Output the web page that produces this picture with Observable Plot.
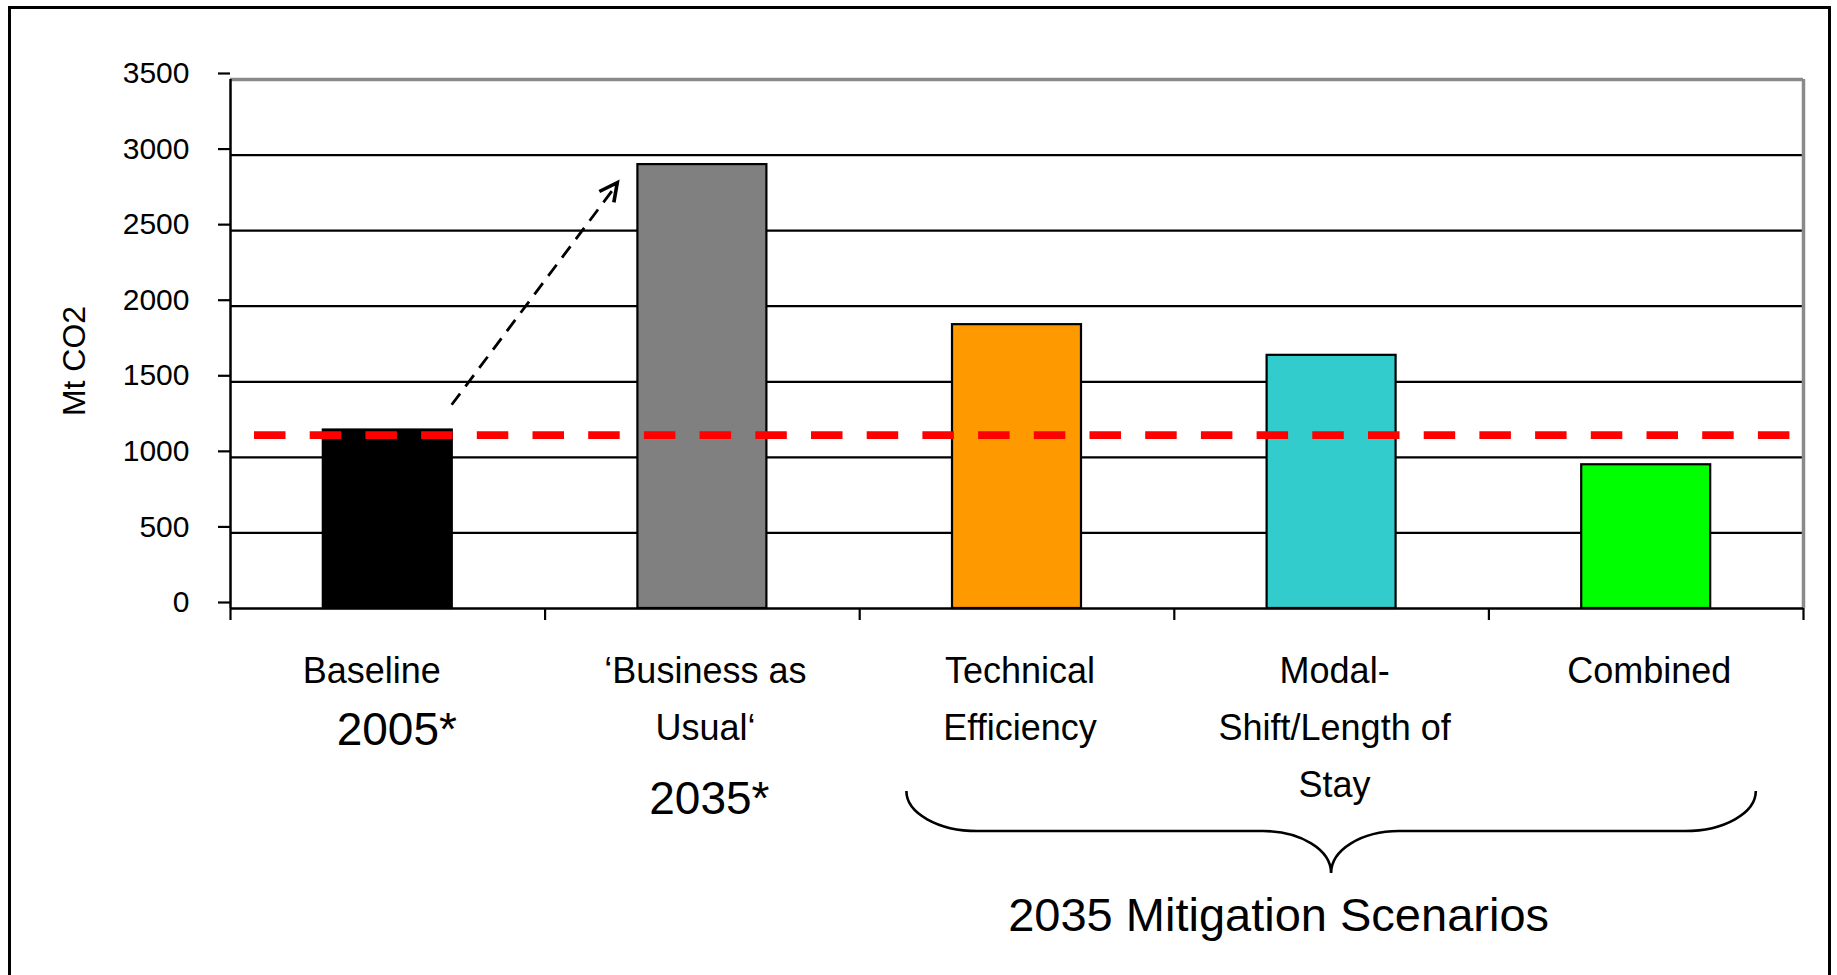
<!DOCTYPE html>
<html>
<head>
<meta charset="utf-8">
<script src="https://cdn.jsdelivr.net/npm/d3@7"></script>
<script src="https://cdn.jsdelivr.net/npm/@observablehq/plot@0.6"></script>
<style>
  html, body { margin: 0; padding: 0; background: #fff; width: 1837px; height: 975px; overflow: hidden; }
  #chart { position: absolute; left: 0; top: 0; }
  #frame { position: absolute; left: 8px; top: 6px; width: 1823px; height: 1100px; border: 3px solid #000; box-sizing: border-box; pointer-events: none; z-index: 2; }
</style>
</head>
<body>
<div id="chart"></div>
<div id="frame"></div>
<script>
// ---- data ----
const categories = ["Baseline", "‘Business as\nUsual‘", "Technical\nEfficiency", "Modal-\nShift/Length of\nStay", "Combined"];
const values = [1181, 2937, 1878, 1675, 951];
const fills = ["#000000", "#808080", "#FF9900", "#33CCCC", "#00FF00"];
const yearLabels = ["2005*", "2035*"];
const yTicks = [0, 500, 1000, 1500, 2000, 2500, 3000, 3500];
const targetLevel = 1147;
const trendArrow = {x1: 0.203, y1: 1348, x2: 0.731, y2: 2814};
const groupLabel = "2035 Mitigation Scenarios";
const groupSpan = {from: 1.65, to: 4.35, tip: 3.0};
const yLabel = "Mt CO2";

const bars = categories.map((name, i) => ({i, name, value: values[i], fill: fills[i]}));
const font = "'Liberation Sans', Arial, Helvetica, sans-serif";

const chart = Plot.plot({
  width: 1837,
  height: 975,
  marginLeft: 230,
  marginRight: 34,
  marginTop: 79,
  marginBottom: 367,
  x: {type: "linear", domain: [-0.5, 4.5], axis: null},
  y: {domain: [0, 3500], axis: null},
  color: {type: "identity"},
  style: {fontFamily: font, fontSize: "30px", color: "#000", background: "transparent", overflow: "visible"},
  marks: [
    // gridlines
    Plot.ruleY(yTicks.filter(t => t > 0 && t < 3500), {stroke: "#000", strokeWidth: 2.3}),
    Plot.ruleY([3500], {stroke: "#8a8a8a", strokeWidth: 3.5}),
    Plot.ruleX([4.5], {y1: 0, y2: 3500, stroke: "#8a8a8a", strokeWidth: 3.5}),
    // bars
    Plot.rect(bars, {
      x1: d => d.i - 0.205, x2: d => d.i + 0.205,
      y1: () => 0, y2: "value",
      fill: "fill", stroke: "#000", strokeWidth: 2.2
    }),
    // axis lines
    Plot.ruleX([-0.5], {y1: 0, y2: 3500, stroke: "#000", strokeWidth: 2.5}),
    Plot.ruleY([0], {stroke: "#000", strokeWidth: 2.5}),
    // axis ticks + labels
    Plot.axisY(yTicks, {anchor: "left", tickSize: 12, tickPadding: 29, dy: -6, fontSize: 30, strokeWidth: 2.2, label: null, tickFormat: d => String(d)}),
    Plot.axisX([-0.5, 0.5, 1.5, 2.5, 3.5, 4.5], {anchor: "bottom", tickSize: 12, tickFormat: () => "", strokeWidth: 2.2, label: null}),
    // red dashed reference level
    Plot.ruleY([targetLevel], {stroke: "#FF0000", strokeWidth: 7.6, strokeDasharray: "31.5 24.2", insetLeft: 24, insetRight: 5}),
    // dashed trend arrow shaft
    Plot.link([trendArrow], {x1: "x1", y1: "y1", x2: "x2", y2: "y2", stroke: "#000", strokeWidth: 2.8, strokeDasharray: "14 9"}),
    // y label
    Plot.text([yLabel], {frameAnchor: "left", textAnchor: "middle", text: d => d, rotate: -90, dx: -156, dy: 17, fontSize: 32}),
    // category labels
    Plot.text(bars.filter(d => d.i === 0), {x: "i", text: "name", frameAnchor: "bottom", lineAnchor: "top", dy: 33.2, dx: -16, fontSize: 36, lineHeight: 1.597}),
    Plot.text(bars.filter(d => d.i > 0), {x: "i", text: "name", frameAnchor: "bottom", lineAnchor: "top", dy: 33.2, dx: 3, fontSize: 36, lineHeight: 1.597}),
    // year labels
    Plot.text([{i: 0, t: yearLabels[0]}], {x: "i", text: "t", frameAnchor: "bottom", lineAnchor: "bottom", dy: 136.3, dx: 9, fontSize: 46}),
    Plot.text([{i: 1, t: yearLabels[1]}], {x: "i", text: "t", frameAnchor: "bottom", lineAnchor: "bottom", dy: 205.3, dx: 7, fontSize: 46}),
    // group label
    Plot.text([{x: groupSpan.tip, t: groupLabel}], {x: "x", text: "t", frameAnchor: "bottom", lineAnchor: "bottom", dy: 322.3, dx: -53, fontSize: 47})
  ]
});

document.getElementById("chart").appendChild(chart);

// annotations drawn with the plot's own scales
const sx = chart.scale("x"), sy = chart.scale("y");
const svg = d3.select(chart);

// arrow head
{
  const tx = sx.apply(trendArrow.x2), ty = sy.apply(trendArrow.y2);
  const fx = sx.apply(trendArrow.x1), fy = sy.apply(trendArrow.y1);
  const back = Math.atan2(fy - ty, fx - tx);
  const wing = 20, half = 27 * Math.PI / 180;
  const p1 = [tx + wing * Math.cos(back + half), ty + wing * Math.sin(back + half)];
  const p2 = [tx + wing * Math.cos(back - half), ty + wing * Math.sin(back - half)];
  svg.append("path")
    .attr("d", `M${p1[0]},${p1[1]}L${tx},${ty}L${p2[0]},${p2[1]}`)
    .attr("fill", "none").attr("stroke", "#000").attr("stroke-width", 3.6)
    .attr("stroke-linejoin", "miter");
}

// curly brace under the mitigation scenarios
{
  const x0 = sx.apply(groupSpan.from), x1 = sx.apply(groupSpan.to), xm = sx.apply(groupSpan.tip);
  const base = sy.apply(0);
  const yTop = base + 183, yMid = base + 223, yTip = base + 265;
  const rx = 71, ry = yMid - yTop, k = 0.552;
  const rxm = 68, rym = yTip - yMid;
  const d = [
    `M${x0},${yTop}`,
    `C${x0},${yTop + k * ry} ${x0 + rx - k * rx},${yMid} ${x0 + rx},${yMid}`,
    `L${xm - rxm},${yMid}`,
    `C${xm - rxm + k * rxm},${yMid} ${xm},${yTip - k * rym} ${xm},${yTip}`,
    `C${xm},${yTip - k * rym} ${xm + rxm - k * rxm},${yMid} ${xm + rxm},${yMid}`,
    `L${x1 - rx},${yMid}`,
    `C${x1 - rx + k * rx},${yMid} ${x1},${yTop + k * ry} ${x1},${yTop}`
  ].join("");
  svg.append("path").attr("d", d).attr("fill", "none").attr("stroke", "#000").attr("stroke-width", 2.6);
}
</script>
</body>
</html>
